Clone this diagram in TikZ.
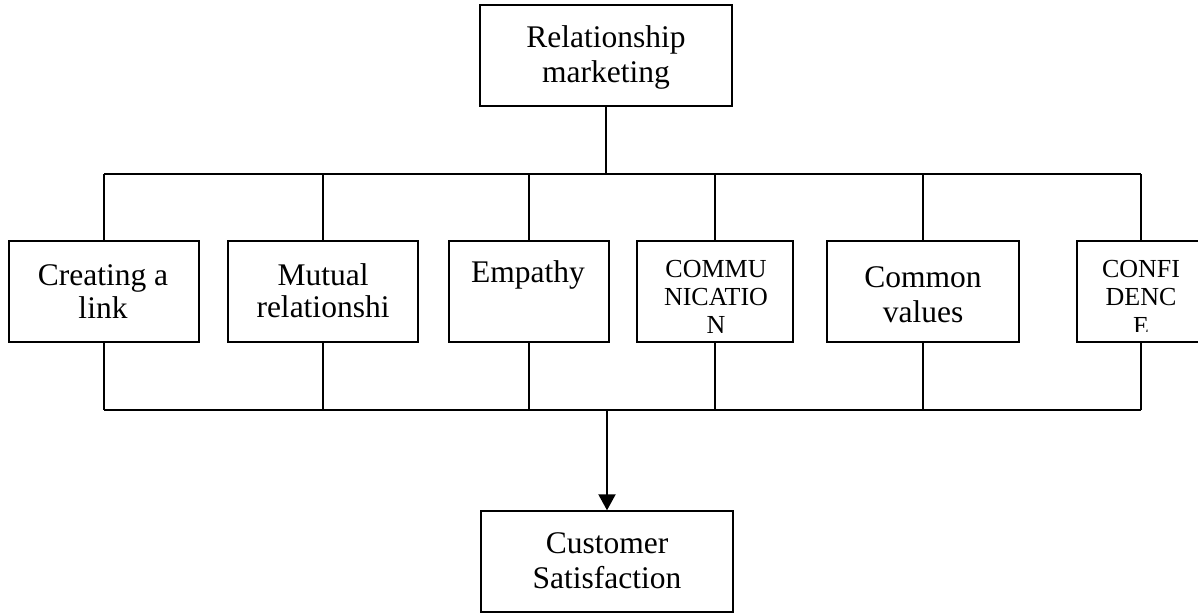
\documentclass[tikz,border=0pt]{standalone}
\usepackage{fontspec}
\setmainfont{Liberation Serif}
\usetikzlibrary{arrows.meta}
\begin{document}
\begin{tikzpicture}[x=1pt,y=-1pt,
  box/.style={draw, line width=1.4pt, inner sep=0pt, minimum height=101pt},
  txt/.style={anchor=base, inner sep=0pt, font=\fontsize{31.5}{34.5}\selectfont},
  captxt/.style={anchor=base, inner sep=0pt, font=\fontsize{26}{28}\selectfont},
  conn/.style={line width=1.4pt},
  arr/.style={line width=2pt, -{Triangle[width=17pt,length=16pt]}}]
\useasboundingbox (0,0) rectangle (1198,613);
\clip (0,0) rectangle (1198,613);
% boxes
\node[box, minimum width=252pt] (rm) at (606,55.5) {};
\node[box, minimum width=252pt] (cs) at (607,561.5) {};
\node[box, minimum width=190pt] (b1) at (104,291.5) {};
\node[box, minimum width=190pt] (b2) at (323,291.5) {};
\node[box, minimum width=160pt] (b3) at (529,291.5) {};
\node[box, minimum width=156pt] (b4) at (715,291.5) {};
\node[box, minimum width=192pt] (b5) at (923,291.5) {};
\node[box, minimum width=128pt] (b6) at (1141,291.5) {};
% texts
\node[txt] (rm1) at (606,47) {Relationship};
\node[txt] (rm2) at (606,82) {marketing};
\node[txt] (cs1) at (607,553) {Customer};
\node[txt] (cs2) at (607,588) {Satisfaction};
\node[txt] (t1a) at (103,285) {Creating a};
\node[txt] (t1b) at (103,318) {link};
\node[txt] (t2a) at (323,285) {Mutual};
\node[txt] (t2b) at (323,317) {relationshi};
\node[txt] (t3a) at (528,282) {Empathy};
\node[captxt] (t4a) at (716,277) {COMMU};
\node[captxt] (t4b) at (716,305) {NICATIO};
\node[captxt] (t4c) at (716,333) {N};
\node[txt] (t5a) at (923,287) {Common};
\node[txt] (t5b) at (923,322) {values};
\node[captxt] (t6a) at (1141,277) {CONFI};
\node[captxt] (t6b) at (1141,305) {DENC};
\begin{scope}
\clip (1077,300) rectangle (1205,331);
\node[captxt] (t6c) at (1141,334) {E};
\end{scope}
% connectors
\coordinate (up) at (0,174);
\coordinate (low) at (0,410);
\draw[conn] (rm.south) -- (rm.south |- up);
\draw[conn] (b1.north |- up) -- (b6.north |- up);
\draw[conn] (b1.south |- low) -- (b6.south |- low);
\foreach \b in {b1,b2,b3,b4,b5,b6}{
  \draw[conn] (\b.north |- up) -- (\b.north);
  \draw[conn] (\b.south) -- (\b.south |- low);
}
\draw[arr] (cs.north |- low) -- (cs.north);
\end{tikzpicture}
\end{document}
